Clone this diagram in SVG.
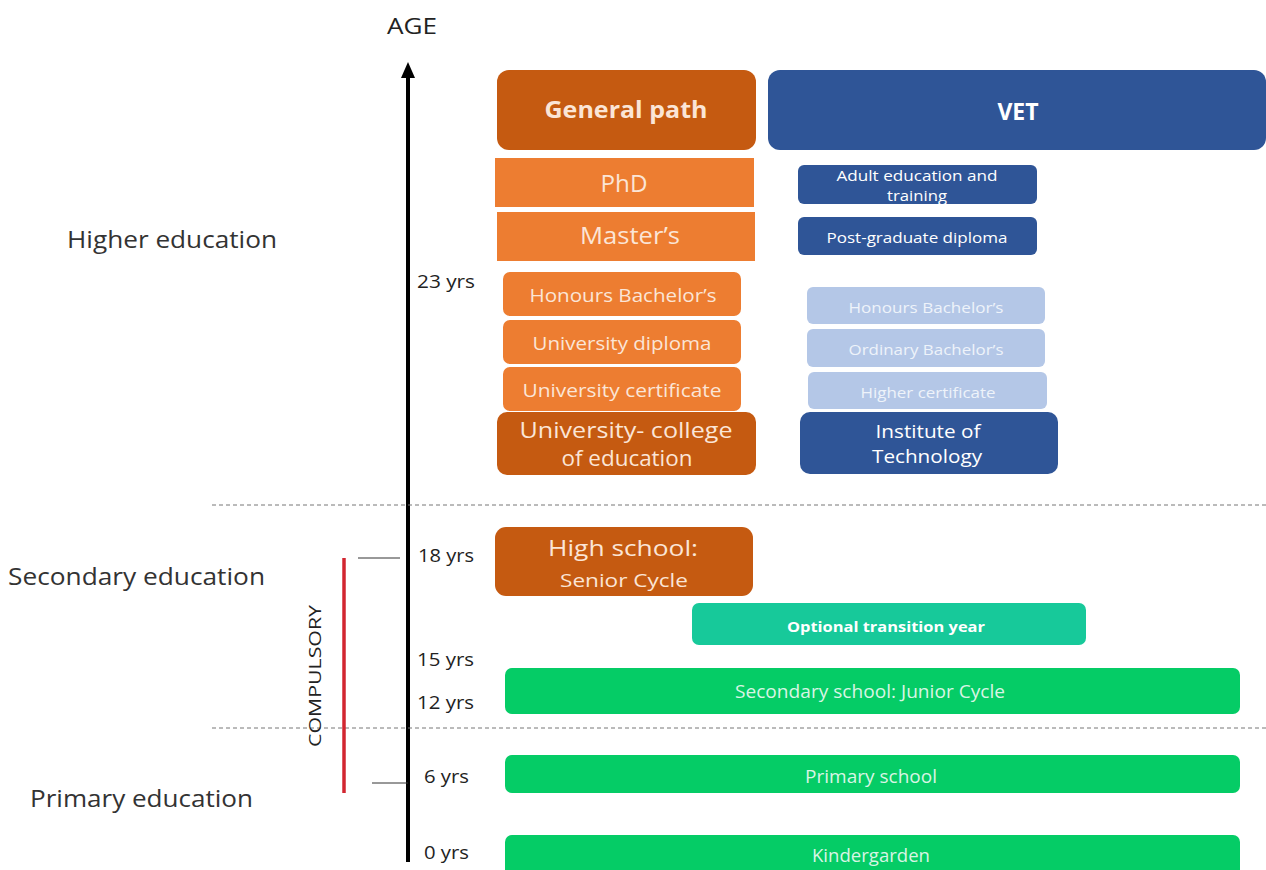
<svg xmlns="http://www.w3.org/2000/svg" width="1266" height="870" viewBox="0 0 1266 870">
<style>
text{font-family:"Open Sans","Liberation Sans",sans-serif;}
.lbl{fill:#333;font-size:24px;}
.yr{fill:#222;font-size:18px;}
.og{fill:#C55A11;}
.ol{fill:#ED7D31;}
.bl{fill:#2F5597;}
.lb{fill:#B4C7E7;}
.gr{fill:#05CC66;}
.tq{fill:#17C99A;}
.ct{fill:#FBE5D6;text-anchor:middle;}
.wt{fill:#FFFFFF;text-anchor:middle;}
.lt{fill:#EEF3FA;text-anchor:middle;}
.gt{fill:#D8F5E4;text-anchor:middle;}
.dash{stroke:#777;stroke-width:1;stroke-dasharray:4 3;}
</style>
<rect width="1266" height="870" fill="#fff"/>

<g id="axis">
<text x="387" y="34" style="font-size:21px;fill:#222" textLength="50" lengthAdjust="spacingAndGlyphs">AGE</text>
<line x1="408" y1="862" x2="408" y2="78" stroke="#000" stroke-width="4"/>
<path d="M401,78 L408,62 L415,78 Z" fill="#000"/>
<text class="yr" x="417" y="288" textLength="58" lengthAdjust="spacingAndGlyphs">23 yrs</text>
<text class="yr" x="418" y="562" textLength="56" lengthAdjust="spacingAndGlyphs">18 yrs</text>
<text class="yr" x="417" y="666" textLength="57" lengthAdjust="spacingAndGlyphs">15 yrs</text>
<text class="yr" x="417" y="709" textLength="57" lengthAdjust="spacingAndGlyphs">12 yrs</text>
<text class="yr" x="424" y="783" textLength="45" lengthAdjust="spacingAndGlyphs">6 yrs</text>
<text class="yr" x="424" y="859" textLength="45" lengthAdjust="spacingAndGlyphs">0 yrs</text>
</g>

<g id="levels">
<text class="lbl" x="67" y="248" textLength="210" lengthAdjust="spacingAndGlyphs">Higher education</text>
<text class="lbl" x="8" y="585" textLength="257" lengthAdjust="spacingAndGlyphs">Secondary education</text>
<text class="lbl" x="30" y="807" textLength="223" lengthAdjust="spacingAndGlyphs">Primary education</text>
</g>

<g id="connectors">
<line class="dash" x1="212" y1="505" x2="1266" y2="505"/>
<line class="dash" x1="212" y1="728" x2="1266" y2="728"/>
<line x1="358" y1="558" x2="400" y2="558" stroke="#333" stroke-width="1"/>
<line x1="372" y1="783" x2="408" y2="783" stroke="#333" stroke-width="1"/>
</g>

<g id="compulsory">
<line x1="344" y1="558" x2="344" y2="793" stroke="#D22630" stroke-width="3.5"/>
<text x="0" y="0" transform="translate(321,676) rotate(-90)" text-anchor="middle" style="font-size:17px;fill:#222" textLength="142" lengthAdjust="spacingAndGlyphs">COMPULSORY</text>
</g>

<g id="general-path">
<rect class="og" x="497" y="70" width="259" height="80" rx="12"/>
<text class="ct" x="626" y="118" style="font-size:23px;font-weight:bold" textLength="163" lengthAdjust="spacingAndGlyphs">General path</text>
</g>
<g id="vet">
<rect class="bl" x="768" y="70" width="498" height="80" rx="12"/>
<text class="wt" x="1018" y="120" style="font-size:23px;font-weight:bold">VET</text>
</g>

<g id="phd">
<rect class="ol" x="495" y="158" width="259" height="49"/>
<text class="ct" x="624" y="192" style="font-size:23px" textLength="47" lengthAdjust="spacingAndGlyphs">PhD</text>
</g>
<g id="masters">
<rect class="ol" x="497" y="212" width="258" height="49"/>
<text class="ct" x="630" y="244" style="font-size:23px" textLength="100" lengthAdjust="spacingAndGlyphs">Master’s</text>
</g>
<g id="honours-general">
<rect class="ol" x="503" y="272" width="238" height="44" rx="7"/>
<text class="ct" x="623" y="302" style="font-size:19px" textLength="187" lengthAdjust="spacingAndGlyphs">Honours Bachelor’s</text>
</g>
<g id="university-diploma">
<rect class="ol" x="503" y="320" width="238" height="44" rx="7"/>
<text class="ct" x="622" y="350" style="font-size:19px" textLength="179" lengthAdjust="spacingAndGlyphs">University diploma</text>
</g>
<g id="university-certificate">
<rect class="ol" x="503" y="367" width="238" height="44" rx="7"/>
<text class="ct" x="622" y="397" style="font-size:19px" textLength="199" lengthAdjust="spacingAndGlyphs">University certificate</text>
</g>
<g id="university-college">
<rect class="og" x="497" y="412" width="259" height="63" rx="10"/>
<text class="ct" x="626" y="438" style="font-size:22px" textLength="213" lengthAdjust="spacingAndGlyphs">University- college</text>
<text class="ct" x="627" y="466" style="font-size:22px" textLength="131" lengthAdjust="spacingAndGlyphs">of education</text>
</g>

<g id="adult-education">
<rect class="bl" x="798" y="165" width="239" height="39" rx="6"/>
<text class="wt" x="917" y="181" style="font-size:14px" textLength="161" lengthAdjust="spacingAndGlyphs">Adult education and</text>
<text class="wt" x="917" y="201" style="font-size:14px" textLength="60" lengthAdjust="spacingAndGlyphs">training</text>
</g>
<g id="post-graduate">
<rect class="bl" x="798" y="217" width="239" height="38" rx="6"/>
<text class="wt" x="917" y="243" style="font-size:14px" textLength="181" lengthAdjust="spacingAndGlyphs">Post-graduate diploma</text>
</g>
<g id="honours-vet">
<rect class="lb" x="807" y="287" width="238" height="37" rx="6"/>
<text class="lt" x="926" y="313" style="font-size:14px" textLength="155" lengthAdjust="spacingAndGlyphs">Honours Bachelor’s</text>
</g>
<g id="ordinary-bachelors">
<rect class="lb" x="807" y="329" width="238" height="38" rx="6"/>
<text class="lt" x="926" y="355" style="font-size:14px" textLength="155" lengthAdjust="spacingAndGlyphs">Ordinary Bachelor’s</text>
</g>
<g id="higher-certificate">
<rect class="lb" x="808" y="372" width="239" height="37" rx="6"/>
<text class="lt" x="928" y="398" style="font-size:14px" textLength="135" lengthAdjust="spacingAndGlyphs">Higher certificate</text>
</g>
<g id="institute-of-technology">
<rect class="bl" x="800" y="412" width="258" height="62" rx="10"/>
<text class="wt" x="928" y="438" style="font-size:18px" textLength="105" lengthAdjust="spacingAndGlyphs">Institute of</text>
<text class="wt" x="927" y="463" style="font-size:18px" textLength="110" lengthAdjust="spacingAndGlyphs">Technology</text>
</g>

<g id="senior-cycle">
<rect class="og" x="495" y="527" width="258" height="69" rx="11"/>
<text class="ct" x="623" y="556" style="font-size:22px" textLength="150" lengthAdjust="spacingAndGlyphs">High school:</text>
<text class="ct" x="624" y="587" style="font-size:19px" textLength="128" lengthAdjust="spacingAndGlyphs">Senior Cycle</text>
</g>
<g id="transition-year">
<rect class="tq" x="692" y="603" width="394" height="42" rx="7"/>
<text class="wt" x="886" y="632" style="font-size:14px;font-weight:bold" textLength="198" lengthAdjust="spacingAndGlyphs">Optional transition year</text>
</g>
<g id="junior-cycle">
<rect class="gr" x="505" y="668" width="735" height="46" rx="7"/>
<text class="gt" x="870" y="698" style="font-size:18px" textLength="270" lengthAdjust="spacingAndGlyphs">Secondary school: Junior Cycle</text>
</g>
<g id="primary-school">
<rect class="gr" x="505" y="755" width="735" height="38" rx="7"/>
<text class="gt" x="871" y="783" style="font-size:18px" textLength="132" lengthAdjust="spacingAndGlyphs">Primary school</text>
</g>
<g id="kindergarden">
<rect class="gr" x="505" y="835" width="735" height="45" rx="7"/>
<text class="gt" x="871" y="862" style="font-size:18px" textLength="118" lengthAdjust="spacingAndGlyphs">Kindergarden</text>
</g>
</svg>
